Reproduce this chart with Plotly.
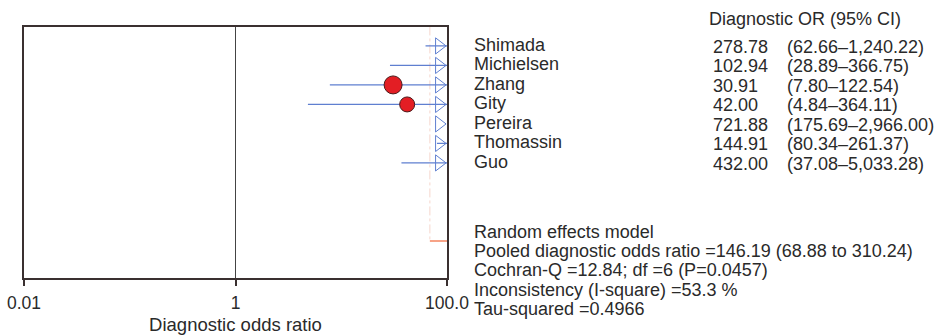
import plotly.graph_objects as go

# ---- data ----
studies = ["Shimada", "Michielsen", "Zhang", "Gity", "Pereira", "Thomassin", "Guo"]
dor = [278.78, 102.94, 30.91, 42.00, 721.88, 144.91, 432.00]
ci_low = [62.66, 28.89, 7.80, 4.84, 175.69, 80.34, 37.08]
ci_high = [1240.22, 366.75, 122.54, 364.11, 2966.00, 261.37, 5033.28]
dor_text = ["278.78", "102.94", "30.91", "42.00", "721.88", "144.91", "432.00"]
ci_text = ["(62.66\u20131,240.22)", "(28.89\u2013366.75)", "(7.80\u2013122.54)",
           "(4.84\u2013364.11)", "(175.69\u20132,966.00)", "(80.34\u2013261.37)",
           "(37.08\u20135,033.28)"]
marker_sizes = [16, 15, 18, 15, 15, 22, 12]

pooled = 146.19
pooled_low = 68.88
pooled_high = 310.24

stats_lines = [
    "Random effects model",
    "Pooled diagnostic odds ratio =146.19 (68.88 to 310.24)",
    "Cochran-Q =12.84; df =6 (P=0.0457)",
    "Inconsistency (I-square) =53.3 %",
    "Tau-squared =0.4966",
]
tick_vals = [0.01, 1, 100]
tick_text = ["0.01", "1", "100.0"]
x_log_range = [-2, 2]

FONT = "Liberation Sans, Arial, Helvetica, sans-serif"
BLUE = "#5f7fd0"
RED = "#e31e24"

rows = list(range(len(studies)))
pooled_row = 10
Y_RANGE = [11.9, -0.97]


def ypaper(r):
    return (Y_RANGE[0] - r) / (Y_RANGE[0] - Y_RANGE[1])


def xpaper(px):
    return (px - 24) / (447 - 24)


fig = go.Figure()

# vertical dashed reference line
fig.add_trace(go.Scatter(x=[pooled_low, pooled_low], y=[-1, pooled_row],
                         mode="lines", line=dict(color="#f6d6cc", width=1, dash="dashdot"),
                         hoverinfo="skip", showlegend=False))

# CI lines
for i in rows:
    fig.add_trace(go.Scatter(x=[ci_low[i], ci_high[i]], y=[i, i], mode="lines",
                             line=dict(color=BLUE, width=1.2),
                             hoverinfo="skip", showlegend=False))

# point estimates
fig.add_trace(go.Scatter(x=dor, y=rows, mode="markers",
                         marker=dict(symbol="circle", size=marker_sizes, color=RED, opacity=1,
                                     line=dict(color="#4a1a1a", width=1)),
                         cliponaxis=True, showlegend=False, hoverinfo="skip"))

# arrows for CIs exceeding the axis
arrow_x = 10 ** (x_log_range[1] - 0.075)
arr_rows = [i for i in rows if ci_high[i] > 10 ** x_log_range[1]]
fig.add_trace(go.Scatter(x=[arrow_x] * len(arr_rows), y=arr_rows, mode="markers",
                         marker=dict(symbol="triangle-right-open", size=14, color=BLUE,
                                     line=dict(color=BLUE, width=1)),
                         cliponaxis=False, showlegend=False, hoverinfo="skip"))

# pooled line
fig.add_trace(go.Scatter(x=[pooled_low, pooled_high], y=[pooled_row, pooled_row],
                         mode="lines", line=dict(color="#f4845f", width=1.5),
                         hoverinfo="skip", showlegend=False))

# x = 1 line
fig.add_trace(go.Scatter(x=[1, 1], y=[-5, 20], mode="lines",
                         line=dict(color="#444444", width=1),
                         hoverinfo="skip", showlegend=False))

annotations = []
annotations.append(dict(x=xpaper(707), y=ypaper(-1.4), text="Diagnostic OR (95% CI)"))
for i in rows:
    annotations.append(dict(x=xpaper(472), y=ypaper(i - 0.05), text=studies[i]))
    annotations.append(dict(x=xpaper(711), y=ypaper(i + 0.05), text=dor_text[i]))
    annotations.append(dict(x=xpaper(785), y=ypaper(i + 0.05), text=ci_text[i]))
for k, s in enumerate(stats_lines):
    annotations.append(dict(x=xpaper(472), y=ypaper(9.55 + k * 0.98), text=s))
for a in annotations:
    a.update(xref="paper", yref="paper", showarrow=False, xanchor="left", yanchor="middle")

fig.update_layout(
    width=942, height=335,
    margin=dict(l=24, r=495, t=27, b=57, autoexpand=False),
    paper_bgcolor="white", plot_bgcolor="white",
    font=dict(family=FONT, size=18, color="#2a2a2a"),
    annotations=annotations,
    showlegend=False,
)
fig.update_xaxes(type="log", range=x_log_range, tickvals=tick_vals, ticktext=tick_text,
                 ticks="outside", ticklen=6, tickwidth=1.5, tickcolor="#3a3030",
                 showline=True, linecolor="#3a3030", linewidth=2, mirror=True,
                 showgrid=False, zeroline=False, automargin=False,
                 ticklabelstandoff=2,
                 title=dict(text="Diagnostic odds ratio", standoff=6, font=dict(size=18.5)),
                 tickfont=dict(size=17.5))
fig.update_yaxes(range=Y_RANGE, showticklabels=False, ticks="",
                 showline=True, linecolor="#3a3030", linewidth=2, mirror=True,
                 showgrid=False, zeroline=False, automargin=False)

fig.write_html("out.html")
